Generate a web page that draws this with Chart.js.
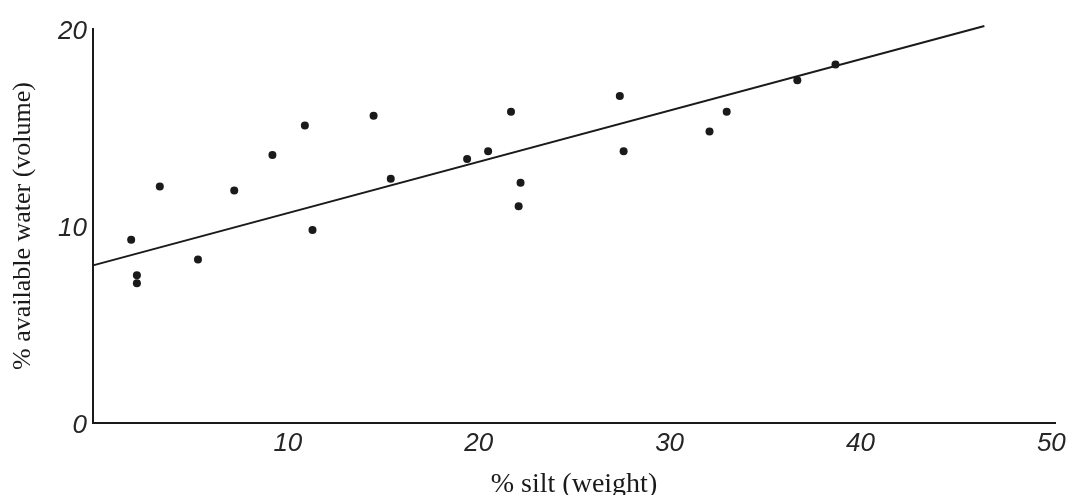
<!DOCTYPE html>
<html>
<head>
<meta charset="utf-8">
<script src="https://cdn.jsdelivr.net/npm/chart.js@4"></script>
<style>
  html, body { margin: 0; padding: 0; background: #fff; }
  canvas { display: block; }
</style>
</head>
<body>
<canvas id="myChart" width="1072" height="495"></canvas>
<script>
  // points
  var silt = [2.0, 2.3, 2.3, 3.5, 5.5, 7.4, 9.4, 11.1, 11.5, 14.7, 15.6, 19.6, 20.7, 21.9, 22.4, 22.3, 27.6, 27.8, 32.3, 33.2, 36.9, 38.9];
  var water = [9.3, 7.5, 7.1, 12.0, 8.3, 11.8, 13.6, 15.1, 9.8, 15.6, 12.4, 13.4, 13.8, 15.8, 12.2, 11.0, 16.6, 13.8, 14.8, 15.8, 17.4, 18.2];

  // fitted line end points
  var lineX = [0, 46.7];
  var lineY = [8.0, 20.15];

  var xTicks = [10, 20, 30, 40, 50];
  var yTicks = [0, 10, 20];

  function pairs(xs, ys) {
    return xs.map(function (v, i) { return { x: v, y: ys[i] }; });
  }

  var ink = "#1a1a1a";
  var tickFont = { family: "'Liberation Sans', Arial, sans-serif", size: 26, style: "italic" };
  var serif = "'Liberation Serif', 'Times New Roman', serif";

  var ctx = document.getElementById("myChart").getContext("2d");
  var chart = new Chart(ctx, {
    type: "scatter",
    data: {
      datasets: [
        {
          label: "samples",
          data: pairs(silt, water),
          backgroundColor: ink,
          borderColor: ink,
          pointRadius: 4,
          pointBorderWidth: 0,
        },
        {
          type: "line",
          label: "fit",
          data: pairs(lineX, lineY),
          borderColor: ink,
          borderWidth: 2,
          pointRadius: 0,
          fill: false,
          clip: false,
        },
      ],
    },
    options: {
      responsive: false,
      devicePixelRatio: 1,
      animation: false,
      layout: { padding: { top: 29, right: 17, left: 0, bottom: 0 } },
      plugins: {
        legend: { display: false },
        tooltip: { enabled: false },
      },
      scales: {
        x: {
          type: "linear",
          min: 0,
          max: 50.4,
          afterFit: function (scale) { scale.height = 72; },
          afterBuildTicks: function (scale) {
            scale.ticks = xTicks.map(function (v) { return { value: v }; });
          },
          grid: { display: false, drawTicks: false },
          border: { display: true, color: ink, width: 2 },
          ticks: { color: "#262626", font: tickFont, padding: 5, labelOffset: 4, maxRotation: 0 },
          title: {
            display: true,
            text: "% silt (weight)",
            color: ink,
            font: { family: serif, size: 28, lineHeight: 1 },
            padding: { top: 0, bottom: -4 },
          },
        },
        y: {
          type: "linear",
          min: 0,
          max: 20,
          afterFit: function (scale) { scale.width = 93; },
          afterBuildTicks: function (scale) {
            scale.ticks = yTicks.map(function (v) { return { value: v }; });
          },
          grid: { display: false, drawTicks: false },
          border: { display: true, color: ink, width: 2 },
          ticks: { color: "#262626", font: tickFont, padding: 6, labelOffset: 3 },
          title: {
            display: true,
            text: "% available water (volume)",
            color: ink,
            font: { family: serif, size: 26 },
            padding: { top: 8, bottom: 0 },
          },
        },
      },
    },
  });
</script>
</body>
</html>
